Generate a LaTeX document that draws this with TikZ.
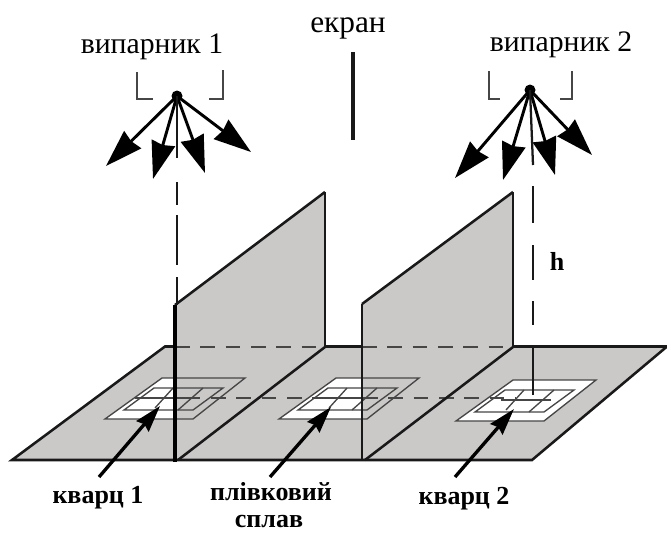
\documentclass[tikz,border=0pt]{standalone}
\usepackage{fontspec}
\setmainfont{Liberation Serif}
\usetikzlibrary{arrows.meta}
\definecolor{plate}{RGB}{203,200,200}
\definecolor{ink}{RGB}{25,25,25}
\definecolor{qline}{RGB}{70,70,70}
\tikzset{
  x=0.75pt,y=-0.75pt,
  surface/.style={fill=plate,draw=none},
  edge/.style={draw=ink,line width=1.9pt,line join=miter},
  thin edge/.style={draw=ink,line width=1.4pt},
  hidden/.style={draw=qline,line width=1.2pt,dash pattern=on 11pt off 8pt},
  guide/.style={draw=ink,line width=1.7pt},
  flux/.style={draw=black,line width=2.2pt,-{Stealth[length=28pt,width=18pt,inset=1.5pt]}},
  pointer/.style={draw=black,line width=2.5pt,-{Stealth[length=20pt,width=12pt,inset=2pt]}},
  bracket/.style={draw=qline,line width=2pt},
  qfine/.style={draw=qline,line width=1pt},
  qbar/.style={draw=qline,line width=2.2pt},
  lab/.style={font=\fontsize{22.3pt}{24pt}\selectfont,inner sep=0pt,anchor=base},
  blab/.style={font=\fontsize{19.5pt}{21pt}\selectfont\bfseries,inner sep=0pt,anchor=base}
}
\newcommand{\qlines}[2]{%
  \begin{scope}[shift={(#1,#2)}]
    \draw[qfine] (105,419)--(162,378)--(245,378)--(193,419)--cycle;
    \draw[qfine] (124,410)--(154,388)--(223,388)--(193,410)--cycle;
    \draw[qfine] (155,408)--(173,388) (178,410)--(203,388);
    \draw[qbar] (150,398)--(200,398);
  \end{scope}}
\begin{document}
\begin{tikzpicture}
\useasboundingbox (0,0) rectangle (667,533);
\fill[white] (0,0) rectangle (667,533);
% plate and screens
\fill[surface] (12,460)--(165,346)--(667,346)--(532,460)--cycle;
\fill[surface] (175,305)--(325,192)--(325,347)--(175,460)--cycle;
\fill[surface] (362,304)--(513,192)--(513,347)--(362,460)--cycle;
% quartz white areas
\fill[white] (105,419)--(162,378)--(175,378)--(175,419)--cycle;
\fill[white] (279,419)--(336,378)--(361,378)--(361,419)--cycle;
\fill[white] (456,421)--(513,380)--(596,380)--(544,421)--cycle;
\qlines{0}{0}
\qlines{174}{0}
\qlines{351}{2}
% hidden lines
\draw[hidden] (175,347)--(325,347);
\draw[hidden] (362,347)--(513,347);
\draw[hidden] (135,398)--(516,398);
% plate edges
\draw[edge] (175,346.5)--(165,346.5)--(12,460)--(532,460)--(667,346.5)--(513,346.5);
\draw[edge] (325,346.5)--(362,346.5);
% screens edges
\draw[edge] (175,305)--(325,192);
\draw[thin edge] (325,192)--(325,347);
\draw[edge] (178,460)--(325,347);
\draw[draw=black,line width=2.8pt] (175,305)--(175,462);
\draw[edge] (362,304)--(513,192);
\draw[thin edge] (513,192)--(513,347);
\draw[thin edge] (362,304)--(362,461);
\draw[edge] (365,460)--(513,347);
% evaporator 1
\fill[black] (177,96) circle (5.5);
\coordinate (ev1) at (177,96);
\coordinate (a1) at (106,166);
\coordinate (a2) at (153,179);
\coordinate (a3) at (205,173);
\coordinate (a4) at (251,152);
\foreach \t in {a1,a2,a3,a4} \draw[flux] (ev1)--(\t);
\draw[guide] (ev1)--(177,158);
\draw[guide] (177,182)--(177,205) (177,215)--(177,265) (177,277)--(177,305);
\draw[bracket] (137,72)--(137,99)--(153,99);
\draw[bracket] (223,70)--(223,99)--(209,99);
% evaporator 2
\fill[black] (530,90) circle (5.5);
\coordinate (ev2) at (530,90);
\coordinate (b1) at (455,178);
\coordinate (b2) at (503,180);
\coordinate (b3) at (555,175);
\coordinate (b4) at (592,155);
\foreach \t in {b1,b2,b3,b4} \draw[flux] (ev2)--(\t);
\draw[guide] (ev2)--(533,165);
\draw[guide] (533,186)--(533,223) (533,245)--(533,280) (533,301)--(533,325);
\draw[guide] (533,346)--(533,395);
\draw[bracket] (489,71)--(489,99)--(500,99);
\draw[bracket] (572,71)--(572,99)--(560,99);
% screen
\draw[draw=ink,line width=2.5pt] (353,52)--(353,140);
% pointers
\coordinate (p1s) at (99,477); \coordinate (p1e) at (160,406);
\coordinate (p2s) at (270,477); \coordinate (p2e) at (331,407);
\coordinate (p3s) at (455,477); \coordinate (p3e) at (514,409);
\draw[pointer] (p1s)--(p1e);
\draw[pointer] (p2s)--(p2e);
\draw[pointer] (p3s)--(p3e);
% labels
\node[lab] (t1) at (152,53) {випарник 1};
\node[lab] (t2) at (561,51) {випарник 2};
\node[lab,font=\fontsize{23.5pt}{25pt}\selectfont] (t3) at (348,32) {екран};
\node[blab] (t4) at (557,270) {h};
\node[blab] (t5) at (98,503) {кварц 1};
\node[blab] (t6) at (271,500) {плівковий};
\node[blab] (t7) at (269,527) {сплав};
\node[blab] (t8) at (464,504) {кварц 2};
\end{tikzpicture}
\end{document}
